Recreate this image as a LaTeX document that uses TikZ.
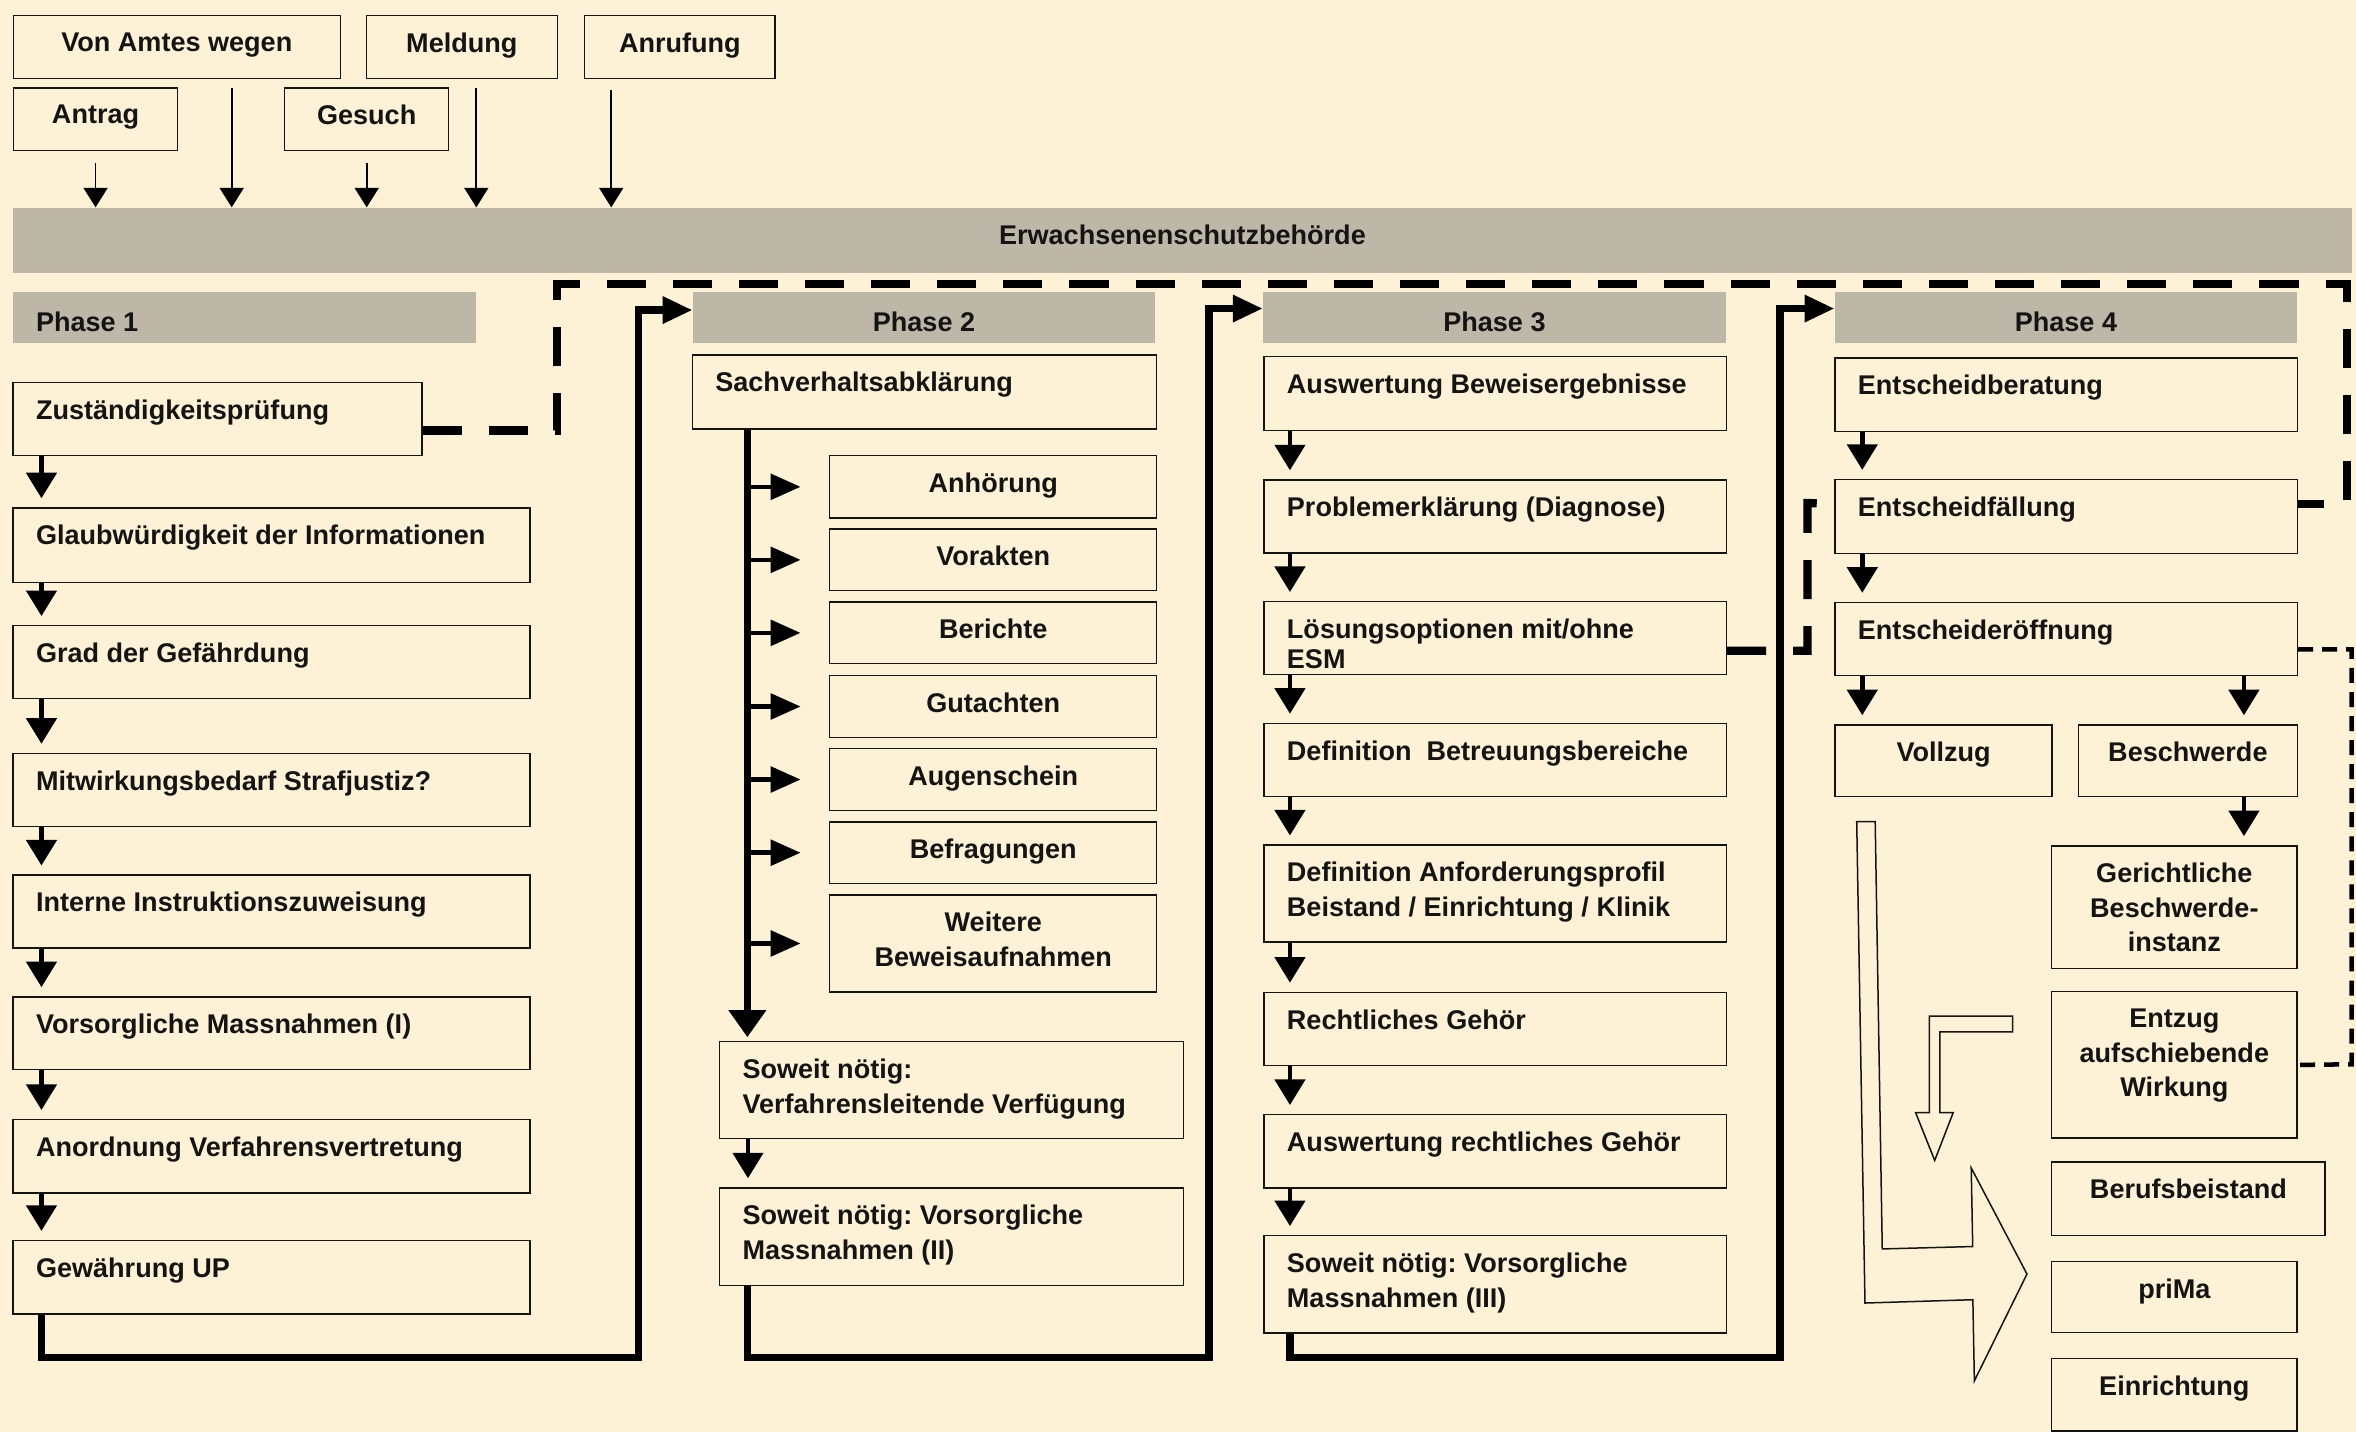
\documentclass[tikz,border=0pt]{standalone}
\usepackage{fontspec}
\setmainfont{Liberation Sans}
\usetikzlibrary{arrows.meta}

\definecolor{cream}{HTML}{FDF2D6}
\definecolor{barclr}{HTML}{BDB7A7}
\definecolor{inkclr}{HTML}{141414}

\tikzset{
  box/.style={draw=inkclr, line width=0.9pt, fill=cream, anchor=north west, inner sep=0pt},
  bar/.style={fill=barclr, anchor=north west, inner sep=0pt},
  txt/.style={inner sep=0pt, text=inkclr, font=\fontsize{18pt}{23pt}\selectfont\bfseries\frenchspacing},
  txl/.style={txt, anchor=north west, align=left, xshift=15.5pt, yshift=-11.7pt},
  txc/.style={txt, anchor=north, align=center, yshift=-11.7pt},
  colarr/.style={line width=3pt, -{Triangle[length=17pt,width=20pt]}, shorten >=6pt},
  sidearr/.style={line width=3pt, -{Triangle[length=20pt,width=17pt]}, shorten >=19pt},
  fatline/.style={line width=5pt, -{Triangle[length=20pt,width=17pt]}},
  toparr/.style={line width=1.2pt, -{Triangle[length=13pt,width=16pt]}},
  dashfat/.style={line width=5.5pt, dash pattern=on 26pt off 18pt},
  dashthin/.style={line width=3pt, dash pattern=on 10pt off 6pt},
  hollow/.style={draw=inkclr, line width=1pt},
}

\begin{document}
\begin{tikzpicture}[x=1pt, y=-1pt]

\useasboundingbox (0,0) rectangle (1568,953);
\fill[cream] (0,0) rectangle (1568,953);

% Eingaenge
\node[box, minimum width=217.5pt, minimum height=41.7pt, label={[txc]north:Von Amtes wegen}] (vaw) at (8.5,10) {};
\node[box, minimum width=127pt, minimum height=41.7pt, label={[txc]north:Meldung}] (meld) at (243.4,10) {};
\node[box, minimum width=126.7pt, minimum height=41.7pt, label={[txc]north:Anrufung}] (anruf) at (388.7,10) {};
\node[box, minimum width=109.3pt, minimum height=41.7pt, label={[txc]north:Antrag}] (antrag) at (8.5,58.1) {};
\node[box, minimum width=109pt, minimum height=41.7pt, label={[txc]north:Gesuch}] (gesuch) at (189.1,58.1) {};

\node[bar, minimum width=1556.5pt, minimum height=43.5pt, label={[txc]north:Erwachsenenschutzbehörde}] (behoerde) at (8.5,138) {};

\coordinate (vawout) at ([xshift=145.7pt]vaw.south west);
\coordinate (meldout) at ([xshift=73.6pt]meld.south west);
\coordinate (anrufout) at ([xshift=18.1pt]anruf.south west);

\draw[toparr, shorten <=8pt] (antrag.south) -- (antrag.south |- behoerde.north);
\draw[toparr, shorten <=6pt] (vawout) -- (vawout |- behoerde.north);
\draw[toparr, shorten <=8pt] (gesuch.south) -- (gesuch.south |- behoerde.north);
\draw[toparr, shorten <=6pt] (meldout) -- (meldout |- behoerde.north);
\draw[toparr, shorten <=7pt] (anrufout) -- (anrufout |- behoerde.north);

% Phasen
\node[bar, minimum width=308.3pt, minimum height=33.7pt, label={[txl, yshift=-1.5pt]north west:Phase 1}] (ph1) at (8.3,194.3) {};
\node[bar, minimum width=307.5pt, minimum height=33.7pt, label={[txc, yshift=-1.5pt]north:Phase 2}] (ph2) at (461,194.3) {};
\node[bar, minimum width=307.8pt, minimum height=33.7pt, label={[txc, yshift=-1.5pt]north:Phase 3}] (ph3) at (840.5,194.3) {};
\node[bar, minimum width=307.5pt, minimum height=33.7pt, label={[txc, yshift=-1.5pt]north:Phase 4}] (ph4) at (1221,194.3) {};

% Phase 1
\node[box, minimum width=272pt, minimum height=48.8pt, label={[txl]north west:Zuständigkeitsprüfung}] (zust) at (8.3,254) {};
\node[box, minimum width=344pt, minimum height=49.5pt, label={[txl]north west:Glaubwürdigkeit der Informationen}] (glaub) at (8.3,337.6) {};
\node[box, minimum width=344pt, minimum height=48.5pt, label={[txl]north west:Grad der Gefährdung}] (grad) at (8.3,416) {};
\node[box, minimum width=344pt, minimum height=48.5pt, label={[txl]north west:Mitwirkungsbedarf Strafjustiz?}] (mitw) at (8.3,501) {};
\node[box, minimum width=344pt, minimum height=48.5pt, label={[txl]north west:Interne Instruktionszuweisung}] (intern) at (8.3,582) {};
\node[box, minimum width=344pt, minimum height=48.5pt, label={[txl]north west:Vorsorgliche Massnahmen (I)}] (vors1) at (8.3,663) {};
\node[box, minimum width=344pt, minimum height=48.8pt, label={[txl]north west:Anordnung Verfahrensvertretung}] (anord) at (8.3,744.7) {};
\node[box, minimum width=344pt, minimum height=48.8pt, label={[txl]north west:Gewährung UP}] (gew) at (8.3,825.2) {};

\draw[colarr] ([xshift=19.3pt]zust.south west) -- ([xshift=19.3pt]glaub.north west);
\draw[colarr] ([xshift=19.3pt]glaub.south west) -- ([xshift=19.3pt]grad.north west);
\draw[colarr] ([xshift=19.3pt]grad.south west) -- ([xshift=19.3pt]mitw.north west);
\draw[colarr] ([xshift=19.3pt]mitw.south west) -- ([xshift=19.3pt]intern.north west);
\draw[colarr] ([xshift=19.3pt]intern.south west) -- ([xshift=19.3pt]vors1.north west);
\draw[colarr] ([xshift=19.3pt]vors1.south west) -- ([xshift=19.3pt]anord.north west);
\draw[colarr] ([xshift=19.3pt]anord.south west) -- ([xshift=19.3pt]gew.north west);

% Phase 2
\node[box, minimum width=309pt, minimum height=49.2pt, label={[txl]north west:Sachverhaltsabklärung}] (sach) at (460.4,235.8) {};
\node[box, minimum width=217.6pt, minimum height=41.5pt, label={[txc]north:Anhörung}] (anh) at (551.8,302.8) {};
\node[box, minimum width=217.6pt, minimum height=41.1pt, label={[txc]north:Vorakten}] (vor) at (551.8,351.6) {};
\node[box, minimum width=217.6pt, minimum height=41.1pt, label={[txc]north:Berichte}] (ber) at (551.8,400.2) {};
\node[box, minimum width=217.6pt, minimum height=41.1pt, label={[txc]north:Gutachten}] (gut) at (551.8,449.2) {};
\node[box, minimum width=217.6pt, minimum height=41.1pt, label={[txc]north:Augenschein}] (aug) at (551.8,497.8) {};
\node[box, minimum width=217.6pt, minimum height=41.1pt, label={[txc]north:Befragungen}] (bef) at (551.8,546.5) {};
\node[box, minimum width=217.6pt, minimum height=64.5pt, label={[txc]north:Weitere\\Beweisaufnahmen}] (weit) at (551.8,595.2) {};
\node[box, minimum width=308.7pt, minimum height=64.3pt, label={[txl]north west:{Soweit nötig:\\Verfahrensleitende Verfügung}}] (vfg) at (478.5,692.8) {};
\node[box, minimum width=308.7pt, minimum height=65pt, label={[txl]north west:{Soweit nötig: Vorsorgliche\\Massnahmen (II)}}] (vors2) at (478.5,790.2) {};

\coordinate (spine) at ([xshift=37pt]sach.south west);
\draw[line width=4.5pt, -{Triangle[length=18pt,width=24pt]}, shorten >=2.5pt] (spine) -- (spine |- vfg.north);
\draw[sidearr] (spine |- anh.west) -- (anh.west);
\draw[sidearr] (spine |- vor.west) -- (vor.west);
\draw[sidearr] (spine |- ber.west) -- (ber.west);
\draw[sidearr] (spine |- gut.west) -- (gut.west);
\draw[sidearr] (spine |- aug.west) -- (aug.west);
\draw[sidearr] (spine |- bef.west) -- (bef.west);
\draw[sidearr] (spine |- weit.west) -- (weit.west);
\draw[colarr] ([xshift=19.3pt]vfg.south west) -- ([xshift=19.3pt]vors2.north west);

% Phase 3
\node[box, minimum width=307.7pt, minimum height=49pt, label={[txl]north west:Auswertung Beweisergebnisse}] (ausw) at (840.8,237) {};
\node[box, minimum width=307.7pt, minimum height=48.7pt, label={[txl]north west:Problemerklärung (Diagnose)}] (prob) at (840.8,319) {};
\node[box, minimum width=307.7pt, minimum height=48.5pt, label={[txl]north west:{Lösungsoptionen mit/ohne\\[-3pt]ESM}}] (loes) at (840.8,400) {};
\node[box, minimum width=307.7pt, minimum height=48.5pt, label={[txl]north west:Definition\ \ Betreuungsbereiche}] (betr) at (840.8,481) {};
\node[box, minimum width=307.7pt, minimum height=64.5pt, label={[txl]north west:Definition Anforderungsprofil\\Beistand / Einrichtung / Klinik}] (anf) at (840.8,562) {};
\node[box, minimum width=307.7pt, minimum height=48.5pt, label={[txl]north west:Rechtliches Gehör}] (gehoer) at (840.8,660) {};
\node[box, minimum width=307.7pt, minimum height=48.8pt, label={[txl]north west:Auswertung rechtliches Gehör}] (auswr) at (840.8,741.4) {};
\node[box, minimum width=307.7pt, minimum height=64.7pt, label={[txl]north west:{Soweit nötig: Vorsorgliche\\Massnahmen (III)}}] (sow3) at (840.8,822) {};

\draw[colarr] ([xshift=17.7pt]ausw.south west) -- ([xshift=17.7pt]prob.north west);
\draw[colarr] ([xshift=17.7pt]prob.south west) -- ([xshift=17.7pt]loes.north west);
\draw[colarr] ([xshift=17.7pt]loes.south west) -- ([xshift=17.7pt]betr.north west);
\draw[colarr] ([xshift=17.7pt]betr.south west) -- ([xshift=17.7pt]anf.north west);
\draw[colarr] ([xshift=17.7pt]anf.south west) -- ([xshift=17.7pt]gehoer.north west);
\draw[colarr] ([xshift=17.7pt]gehoer.south west) -- ([xshift=17.7pt]auswr.north west);
\draw[colarr] ([xshift=17.7pt]auswr.south west) -- ([xshift=17.7pt]sow3.north west);

% Phase 4
\node[box, minimum width=307.7pt, minimum height=49pt, label={[txl]north west:Entscheidberatung}] (berat) at (1220.8,237.8) {};
\node[box, minimum width=307.7pt, minimum height=49.3pt, label={[txl]north west:Entscheidfällung}] (faell) at (1220.8,318.7) {};
\node[box, minimum width=307.7pt, minimum height=48.4pt, label={[txl]north west:Entscheideröffnung}] (eroeff) at (1220.8,400.5) {};
\node[box, minimum width=144.5pt, minimum height=47.6pt, label={[txc]north:Vollzug}] (vollz) at (1220.8,482) {};
\node[box, minimum width=145.7pt, minimum height=47.6pt, label={[txc]north:Beschwerde}] (besch) at (1382.8,482) {};
\node[box, minimum width=163.3pt, minimum height=81.5pt, label={[txc]north:Gerichtliche\\Beschwerde-\\instanz}] (gericht) at (1365,562.5) {};
\node[box, minimum width=163.3pt, minimum height=97.4pt, label={[txc]north:Entzug\\aufschiebende\\Wirkung}] (entz) at (1365,659.6) {};
\node[box, minimum width=182pt, minimum height=49pt, label={[txc]north:Berufsbeistand}] (beruf) at (1365,773) {};
\node[box, minimum width=163.3pt, minimum height=47.5pt, label={[txc]north:priMa}] (prima) at (1365,839) {};
\node[box, minimum width=163.3pt, minimum height=48.2pt, label={[txc]north:Einrichtung}] (einr) at (1365,903.8) {};

\draw[colarr] ([xshift=18.6pt]berat.south west) -- ([xshift=18.6pt]faell.north west);
\draw[colarr] ([xshift=18.6pt]faell.south west) -- ([xshift=18.6pt]eroeff.north west);
\draw[colarr] ([xshift=18.6pt]eroeff.south west) -- ([xshift=18.6pt]vollz.north west);
\coordinate (bx) at ([xshift=-36pt]eroeff.south east);
\coordinate (bx2) at ([xshift=-36pt]besch.south east);
\draw[colarr] (bx) -- (bx |- besch.north);
\draw[colarr] (bx2) -- (bx2 |- gericht.north);

% Uebergaenge
\coordinate (r12) at (425,903.5);
\coordinate (r23) at (804.5,903.5);
\coordinate (r34) at (1184.5,903.5);
\draw[fatline] ([xshift=19.3pt]gew.south west) |- (r12) |- ([yshift=5pt]ph2.west);
\draw[fatline] ([xshift=19pt]vors2.south west) |- (r23) |- ([yshift=6pt]ph3.west);
\draw[fatline] ([xshift=17.7pt]sow3.south west) |- (r34) |- ([yshift=6pt]ph4.west);

% gestrichelt
\coordinate (d1) at (370.6,189);
\coordinate (d2) at (1562,189);
\coordinate (d3) at (1203,334.8);
\coordinate (d4) at (1565,708.3);
\draw[dashfat] ([yshift=-7.6pt]zust.east) -| (d1) -- (d2) |- ([yshift=8.6pt]faell.east);
\draw[dashfat] ([yshift=-8.4pt]loes.east) -| (d3) -- ([yshift=8.6pt]faell.west);
\draw[dashthin] ([yshift=-7pt]eroeff.east) -| (d4) -- (entz.east);

% Pfeile
\draw[hollow] (1235.7,546.8) -- (1248,546.8) -- (1252.7,831.2) -- (1312.9,829.6) -- (1311.9,777.3)
  -- (1349,847.9) -- (1314,919) -- (1313,865) -- (1241.2,867.2) -- cycle;
\draw[hollow] (1284,676.3) -- (1339.5,676.3) -- (1339.5,686.8) -- (1291.1,686.8) -- (1291.1,740.5)
  -- (1299.9,740.5) -- (1287.6,772.3) -- (1274.9,740.5) -- (1284,740.5) -- cycle;

\end{tikzpicture}
\end{document}
